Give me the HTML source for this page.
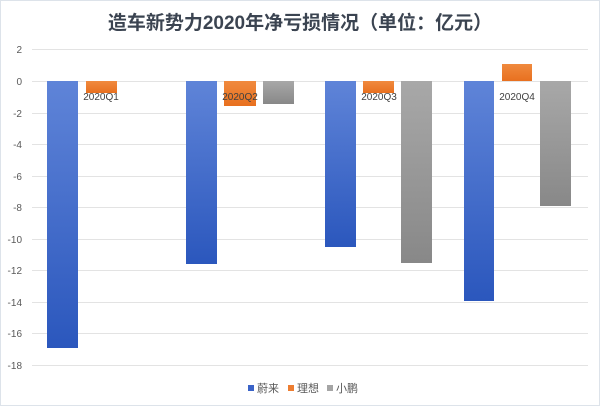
<!DOCTYPE html>
<html><head><meta charset="utf-8"><style>
body{margin:0;background:#fff}
svg{display:block;font-family:"Liberation Sans","Noto Sans CJK SC",sans-serif}
</style></head><body>
<svg width="600" height="406" viewBox="0 0 600 406">
<defs>
<linearGradient id="b" x1="0" y1="0" x2="0" y2="1"><stop offset="0" stop-color="#5f84d8"/><stop offset="1" stop-color="#2b57bd"/></linearGradient>
<linearGradient id="g" x1="0" y1="0" x2="0" y2="1"><stop offset="0" stop-color="#a8a8a8"/><stop offset="1" stop-color="#888"/></linearGradient>
<linearGradient id="o" x1="0" y1="0" x2="0" y2="1"><stop offset="0" stop-color="#f08a3e"/><stop offset="1" stop-color="#e8701f"/></linearGradient>
</defs>
<rect x="0.5" y="0.5" width="599" height="405" fill="#fff" stroke="#dde3ea"/>
<text x="300" y="29" text-anchor="middle" font-size="19" font-weight="bold" fill="#3b4451">造车新势力2020年净亏损情况（单位：亿元）</text>
<g stroke="#e3e3e3" stroke-width="1">
<line x1="32" x2="588" y1="49.5" y2="49.5"/><line x1="32" x2="588" y1="81.5" y2="81.5"/>
<line x1="32" x2="588" y1="113.5" y2="113.5"/><line x1="32" x2="588" y1="144.5" y2="144.5"/>
<line x1="32" x2="588" y1="176.5" y2="176.5"/><line x1="32" x2="588" y1="207.5" y2="207.5"/>
<line x1="32" x2="588" y1="239.5" y2="239.5"/><line x1="32" x2="588" y1="270.5" y2="270.5"/>
<line x1="32" x2="588" y1="302.5" y2="302.5"/><line x1="32" x2="588" y1="333.5" y2="333.5"/>
<line x1="32" x2="588" y1="365.5" y2="365.5"/>
</g>
<g font-size="10" fill="#595959" text-anchor="end">
<text x="22" y="53">2</text><text x="22" y="85">0</text><text x="22" y="117">-2</text><text x="22" y="148">-4</text>
<text x="22" y="180">-6</text><text x="22" y="211">-8</text><text x="22" y="243">-10</text><text x="22" y="274">-12</text>
<text x="22" y="306">-14</text><text x="22" y="337">-16</text><text x="22" y="369">-18</text>
</g>
<rect x="47" y="81" width="31" height="267" fill="url(#b)"/>
<rect x="86" y="81" width="31" height="12" fill="url(#o)"/>
<rect x="186" y="81" width="31" height="183" fill="url(#b)"/>
<rect x="224" y="81" width="32" height="25" fill="url(#o)"/>
<rect x="263" y="81" width="31" height="23" fill="url(#g)"/>
<rect x="325" y="81" width="31" height="166" fill="url(#b)"/>
<rect x="363" y="81" width="31" height="12" fill="url(#o)"/>
<rect x="401" y="81" width="31" height="182" fill="url(#g)"/>
<rect x="464" y="81" width="30" height="220" fill="url(#b)"/>
<rect x="502" y="64" width="30" height="17" fill="url(#o)"/>
<rect x="540" y="81" width="31" height="125" fill="url(#g)"/>
<g font-size="10" fill="#404040" text-anchor="middle">
<text x="101" y="100">2020Q1</text><text x="240" y="100">2020Q2</text>
<text x="379" y="100">2020Q3</text><text x="517" y="100">2020Q4</text>
</g>
<g font-size="11" fill="#595959">
<rect x="248" y="385" width="6" height="6" fill="#3a63c8"/><text x="257" y="392">蔚来</text>
<rect x="288" y="385" width="6" height="6" fill="#ed7d31"/><text x="297" y="392">理想</text>
<rect x="327" y="385" width="6" height="6" fill="#a5a5a5"/><text x="336" y="392">小鹏</text>
</g>
</svg>
</body></html>
